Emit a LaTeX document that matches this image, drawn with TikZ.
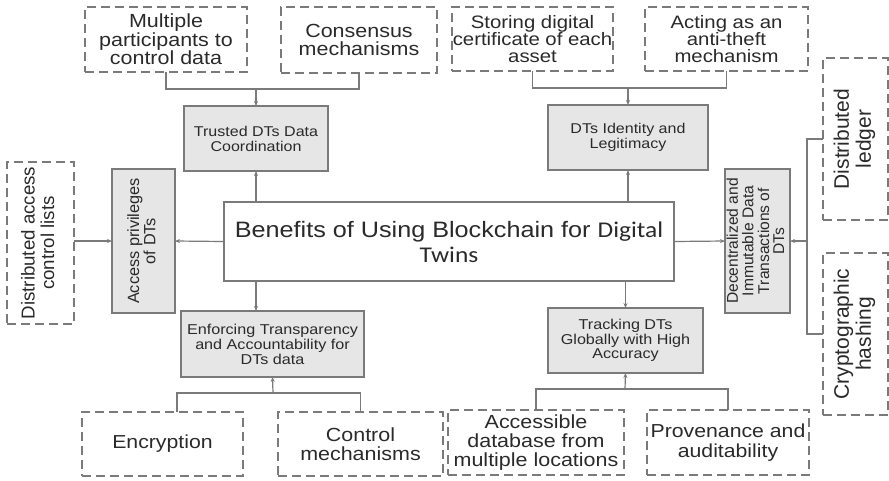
\documentclass[tikz,border=0pt]{standalone}
\usepackage{fontspec}
\setmainfont{Liberation Sans}[FakeStretch=1.13]
\newfontfamily\calfont{Carlito}[FakeStretch=1.13]
\newfontfamily\vfont{Liberation Sans}
\usepackage{graphicx}
\usepackage{xcolor}
\usepackage{tikz}
\usetikzlibrary{arrows.meta, positioning, calc}

\definecolor{boxline}{HTML}{7A7A7A}
\definecolor{boxfill}{HTML}{E6E6E6}
\definecolor{inkgray}{HTML}{2A2A2A}

\newcommand{\vlab}[1]{\rotatebox{90}{\vfont\begin{tabular}{@{}c@{}}#1\end{tabular}}}

\begin{document}
\begin{tikzpicture}[x=1pt, y=-1pt, >={Stealth[length=5pt,width=4pt]},
    dbox/.style={draw=boxline, line width=1.2pt, dash pattern=on 9pt off 5pt, text=inkgray,
      inner sep=0pt, outer sep=0pt, align=center, font=\fontsize{19}{18.5}\selectfont},
    gbox/.style={draw=boxline, fill=boxfill, line width=1.2pt, text=inkgray,
      inner sep=0pt, outer sep=0pt, align=center, font=\fontsize{14.2}{15}\selectfont},
    link/.style={draw=boxline, line width=1.2pt}]
    \useasboundingbox (0,0) rectangle (889,480);

    % centre
    \node[draw=boxline, line width=1.2pt, fill=white, text=inkgray, inner sep=0pt, outer sep=0pt,
      minimum width=450pt, minimum height=79pt, align=center, font=\fontsize{22.3}{25}\selectfont]
      (title) at (449,241.5) {Benefits of Using Blockchain for {\calfont\fontsize{22.5}{25}\selectfont Digital}\\{\calfont\fontsize{22.5}{25}\selectfont Twins}};

    % benefits
    \node[gbox, minimum width=144pt, minimum height=65pt] (trusted) at (256,138.5) {Trusted DTs Data\\Coordination};
    \node[gbox, minimum width=160pt, minimum height=65pt] (ident) at (628,137.5) {DTs Identity and\\Legitimacy};
    \node[gbox, minimum width=63pt, minimum height=144pt, font=\fontsize{16.3}{15}\selectfont] (privil) at (143.5,241) {\vlab{Access privileges\\of DTs}};
    \node[gbox, minimum width=65pt, minimum height=144pt, font=\fontsize{15.6}{14.5}\selectfont] (decent) at (757.5,241) {\vlab{Decentralized and\\Immutable Data\\Transactions of\\DTs}};
    \node[gbox, minimum width=183pt, minimum height=66pt, font=\fontsize{14.3}{15}\selectfont] (enforce) at (272.5,344) {Enforcing Transparency\\and Accountability for\\DTs data};
    \node[gbox, minimum width=155pt, minimum height=65pt, font=\fontsize{14.3}{14.3}\selectfont] (track) at (625.5,340.5) {Tracking DTs\\Globally with High\\Accuracy};

    % enablers
    \node[dbox, minimum width=162pt, minimum height=65pt] (multi) at (166,39.5) {Multiple\\participants to\\control data};
    \node[dbox, minimum width=156pt, minimum height=66pt] (consens) at (359,40) {Consensus\\mechanisms};
    \node[dbox, minimum width=161pt, minimum height=64pt, font=\fontsize{18}{16.8}\selectfont] (certif) at (532.5,39) {Storing digital\\certificate of each\\asset};
    \node[dbox, minimum width=163pt, minimum height=64pt, font=\fontsize{18}{16.8}\selectfont] (theft) at (726.5,39) {Acting as an\\anti-theft\\mechanism};
    \node[dbox, minimum width=65pt, minimum height=162pt, font=\fontsize{21}{22}\selectfont] (ledger) at (855.5,139) {\vlab{Distributed\\ledger}};
    \node[dbox, minimum width=65pt, minimum height=162pt, font=\fontsize{21}{22}\selectfont] (hashing) at (855.5,334) {\vlab{Cryptographic\\hashing}};
    \node[dbox, minimum width=67pt, minimum height=162pt, font=\fontsize{18.7}{19.3}\selectfont] (acl) at (40.5,243) {\vlab{Distributed access\\control lists}};
    \node[dbox, minimum width=161pt, minimum height=64pt, font=\fontsize{18.8}{18.5}\selectfont] (encrypt) at (162.5,444) {Encryption};
    \node[dbox, minimum width=165pt, minimum height=64pt, font=\fontsize{19}{18.5}\selectfont] (control) at (360.5,444) {Control\\mechanisms};
    \node[dbox, minimum width=176pt, minimum height=65pt, font=\fontsize{19}{19}\selectfont] (database) at (536,442.5) {Accessible\\database from\\multiple locations};
    \node[dbox, minimum width=162pt, minimum height=65pt, font=\fontsize{18.8}{19.3}\selectfont] (proven) at (728,442.5) {Provenance and\\auditability};

    % junctions
    \coordinate (jTL) at (256,89);
    \coordinate (jTR) at (628,88);
    \coordinate (jBL) at (273,393);
    \coordinate (jBR) at (625,389);
    \coordinate (jR) at (807,241);

    % title to benefits
    \draw[link, ->] (title.north -| trusted.south) -- (trusted.south);
    \draw[link, ->] (title.north -| ident.south) -- (ident.south);
    \draw[link, ->] (title.west) -- (privil.east);
    \draw[link, ->] (title.east) -- (decent.west);
    \draw[link, ->] (title.south -| trusted.south) -- (enforce.north -| trusted.south);
    \draw[link, ->] (title.south -| track.north) -- (track.north);

    % enablers to benefits
    \draw[link] (multi.south) |- (jTL) -| (consens.south);
    \draw[link, ->] (jTL) -- (trusted.north);
    \draw[link] (certif.south) |- (jTR) -| (theft.south);
    \draw[link, ->] (jTR) -- (ident.north);
    \draw[link] ([xshift=14.5pt]encrypt.north) |- (jBL) -| (control.north);
    \draw[link, ->] (jBL) -- (enforce.south);
    \draw[link] (database.north) |- (jBR) -| (proven.north);
    \draw[link, ->] (jBR) -- (track.south);
    \draw[link] (ledger.west) -| (jR) |- (hashing.west);
    \draw[link, ->] (jR) -- (decent.east);
    \draw[link, ->] (acl.east |- privil.west) -- (privil.west);

  \end{tikzpicture}
\end{document}
